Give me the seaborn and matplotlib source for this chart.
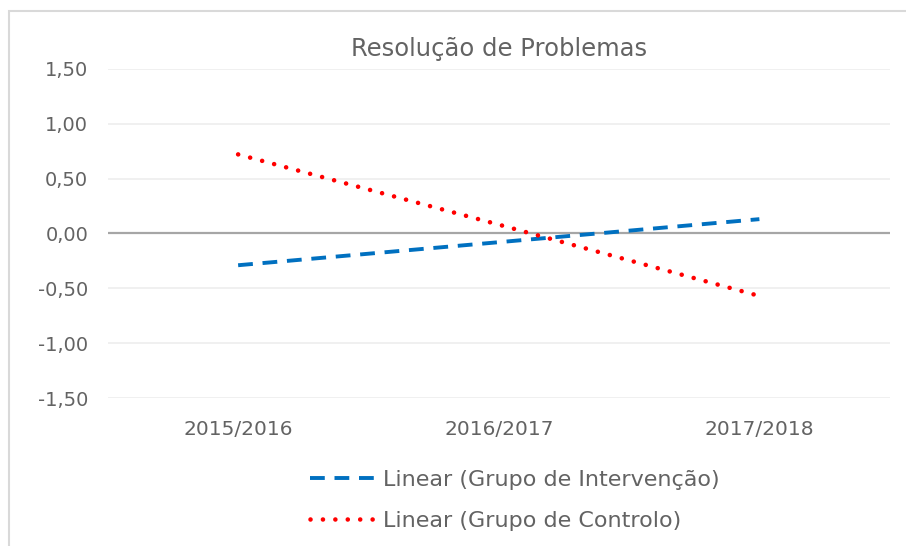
import pandas as pd
import matplotlib.pyplot as plt
import seaborn as sns
from matplotlib.patches import Rectangle

# Chart data
anos = ["2015/2016", "2016/2017", "2017/2018"]
intervencao = [-0.29, -0.08, 0.13]
controlo = [0.72, 0.08, -0.57]
y_ticks = [-1.5, -1.0, -0.5, 0.0, 0.5, 1.0, 1.5]
serie_int = "Linear (Grupo de Intervenção)"
serie_ctl = "Linear (Grupo de Controlo)"

df = pd.DataFrame({
    "Ano": anos * 2,
    "Valor": intervencao + controlo,
    "Serie": [serie_int] * 3 + [serie_ctl] * 3,
})

sns.set_style("white")
plt.rcParams["font.family"] = ["DejaVu Sans"]
text_color = "#636363"

fig = plt.figure(figsize=(9.06, 5.46), dpi=100)
ax = fig.add_axes([0.119, 0.271, 0.863, 0.603])

# Outer chart frame (runs off the right and bottom edges)
fig.patches.append(Rectangle((0.0095, -0.05), 1.1, 1.0305, transform=fig.transFigure,
                             fill=False, edgecolor="#D9D9D9", linewidth=1.5))

for y in y_ticks:
    if y != 0:
        ax.axhline(y, color="#EFEFEF", linewidth=1.3, zorder=0)
ax.axhline(0, color="#A6A6A6", linewidth=1.6, zorder=1)

sns.lineplot(data=df[df["Serie"] == serie_int], x="Ano", y="Valor",
             color="#0070C0", linewidth=2.8, linestyle=(0, (3.8, 2.5)),
             label=serie_int, ax=ax, zorder=3)
sns.lineplot(data=df[df["Serie"] == serie_ctl], x="Ano", y="Valor",
             color="#FF0000", linewidth=3.3, linestyle=(0, (0.01, 2.7)),
             dash_capstyle="round", label=serie_ctl, ax=ax, zorder=4)

ax.set_xlim(-0.5, 2.5)
ax.set_ylim(-1.5, 1.5)
ax.set_yticks(y_ticks)
ax.set_yticklabels([f"{v:.2f}".replace(".", ",") for v in y_ticks])
ax.tick_params(axis="y", length=0, pad=14, labelsize=14, labelcolor=text_color)
ax.tick_params(axis="x", length=0, pad=16, labelsize=14.5, labelcolor=text_color)
ax.set_xlabel("")
ax.set_ylabel("")
for s in ax.spines.values():
    s.set_visible(False)

ax.set_title("Resolução de Problemas", fontsize=17.5, color=text_color, pad=9)

leg = fig.legend(loc="upper left", bbox_to_anchor=(310 / 906, 1 - 470 / 546), ncol=1,
                 frameon=False, fontsize=16, handlelength=2.97, handletextpad=0.31,
                 labelspacing=0.95, borderpad=0, borderaxespad=0)
ax.get_legend().remove()
for t in leg.get_texts():
    t.set_color(text_color)
leg.legend_handles[1].set_dash_capstyle("round")

fig.savefig("out.png", dpi=100)
